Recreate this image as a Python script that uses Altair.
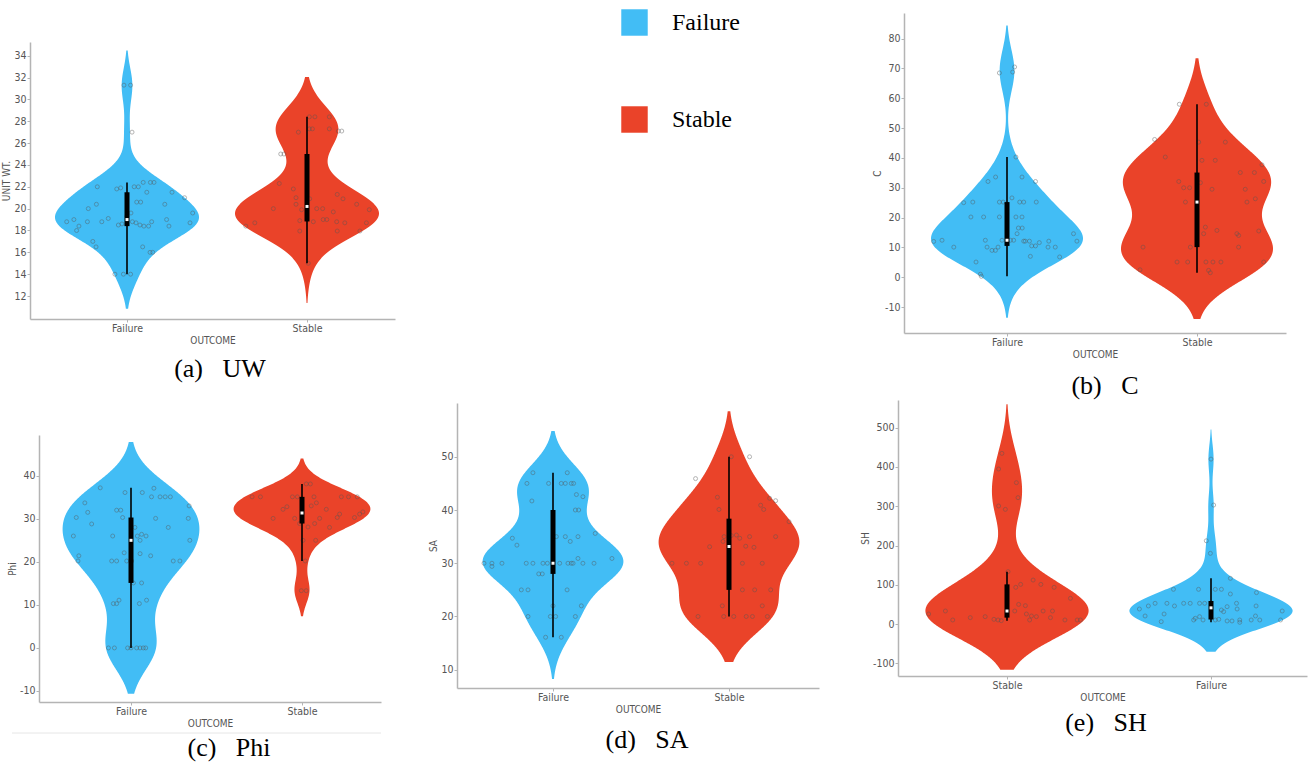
import altair as alt
import numpy as np
import pandas as pd

W, H = 1309, 765
BLUE = "#42bdf5"
RED = "#ea4329"
OUTCOMES = ["Failure", "Stable"]

# Observations per outcome: (value, horizontal jitter in category units)
UW_FAILURE = [(31.3, -0.017), (31.3, 0.02), (27.0, 0.028), (22.0, -0.165), (21.8, -0.057),
              (21.9, -0.035), (22.0, 0.04), (22.0, 0.063), (22.4, 0.09), (22.4, 0.13),
              (22.4, 0.15), (21.5, 0.25), (21.5, 0.11), (20.6, 0.054), (20.6, 0.076),
              (20.4, -0.17), (20.0, -0.215), (20.4, 0.21), (19.6, 0.365), (21.0, 0.32),
              (19.6, 0.022), (18.8, -0.335), (19.0, -0.295), (18.4, -0.267), (18.0, -0.28),
              (18.8, -0.22), (18.8, -0.14), (19.1, -0.104), (18.5, -0.048), (18.6, -0.028),
              (18.8, 0.03), (18.7, 0.05), (18.5, 0.072), (18.4, 0.094), (18.4, 0.12),
              (18.8, 0.137), (19.0, 0.22), (18.4, 0.233), (18.7, 0.35), (17.0, -0.19),
              (16.5, -0.172), (16.5, 0.087), (16.0, 0.128), (16.0, 0.143), (14.0, -0.067),
              (14.0, -0.02), (14.0, 0.02), (19.3, 0.0)]
UW_STABLE = [(28.4, 0.013), (28.4, 0.044), (28.4, 0.124), (27.0, -0.048), (27.3, 0.013),
             (27.3, 0.03), (27.3, 0.124), (27.1, 0.174), (27.1, 0.193), (25.0, -0.146),
             (25.0, -0.128), (22.3, -0.154), (21.8, -0.076), (21.0, -0.061), (20.4, -0.061),
             (20.9, 0.015), (19.9, -0.03), (20.0, -0.187), (20.0, 0.054), (20.0, 0.087),
             (19.7, 0.146), (21.3, 0.168), (20.9, 0.2), (20.4, 0.276), (19.9, 0.346),
             (18.9, -0.04), (18.8, 0.035), (19.0, 0.09), (19.0, 0.11), (18.8, 0.165),
             (18.7, 0.21), (18.7, 0.33), (18.7, -0.29), (18.4, -0.34), (17.95, -0.04),
             (17.95, 0.168), (17.95, 0.294), (15.0, 0.007)]

C_FAILURE = [(68.5, -0.04), (68.8, 0.03), (70.5, 0.04), (40.3, 0.047), (33.6, -0.06),
             (32.1, -0.1), (33.6, 0.079), (32.1, 0.15), (25.0, -0.228), (25.2, -0.18),
             (25.2, -0.04), (25.2, -0.02), (26.6, 0.026), (25.2, 0.067), (25.2, 0.088),
             (25.2, 0.154), (20.2, -0.19), (20.2, -0.123), (20.2, -0.04), (20.2, 0.047),
             (20.2, 0.079), (16.5, 0.06), (16.5, 0.08), (14.6, 0.053), (12.0, -0.386),
             (12.4, -0.342), (10.1, -0.28), (12.4, -0.114), (10.1, -0.105), (9.0, -0.079),
             (9.0, -0.061), (10.1, -0.047), (12.4, -0.026), (12.4, 0.018), (12.4, 0.035),
             (12.1, 0.088), (12.1, 0.096), (12.1, 0.118), (10.5, 0.13), (10.5, 0.15),
             (11.6, 0.17), (12.1, 0.22), (10.1, 0.216), (10.1, 0.254), (6.8, 0.277),
             (7.0, 0.123), (14.6, 0.35), (12.1, 0.368), (5.1, -0.163), (1.0, -0.14),
             (0.3, -0.135)]
C_STABLE = [(58.0, -0.093), (58.0, 0.049), (46.2, -0.223), (45.3, 0.009), (45.3, 0.149),
            (40.3, -0.167), (39.2, 0.026), (39.2, 0.096), (37.7, 0.342), (32.1, -0.096),
            (31.7, 0.018), (32.1, 0.351), (30.0, -0.07), (30.0, -0.039), (29.5, 0.079),
            (29.5, 0.254), (35.1, 0.228), (35.1, 0.302), (25.2, -0.061), (25.2, 0.263),
            (26.3, 0.307), (16.8, 0.044), (14.6, 0.035), (15.7, 0.105), (14.6, 0.21),
            (14.0, 0.219), (15.5, 0.325), (10.1, -0.284), (10.1, -0.035), (10.1, 0.219),
            (5.1, -0.105), (5.1, -0.049), (5.1, 0.047), (5.1, 0.084), (5.1, 0.126),
            (5.1, 0.351), (2.3, 0.061), (1.5, 0.07), (2.5, -0.3)]

PHI_FAILURE = [(37.2, -0.18), (36.1, -0.035), (36.1, 0.066), (37.1, 0.134), (35.1, 0.12),
               (35.1, 0.17), (35.1, 0.2), (35.1, 0.23), (33.7, -0.27), (33.0, 0.34),
               (32.0, -0.084), (32.0, -0.06), (31.5, -0.253), (30.3, -0.32), (30.3, -0.049),
               (30.1, 0.144), (30.1, 0.335), (28.8, -0.23), (28.0, 0.023), (28.0, 0.218),
               (26.0, -0.337), (26.0, -0.107), (26.0, 0.037), (26.4, 0.062), (26.0, 0.088),
               (25.0, 0.053), (25.0, 0.344), (21.4, -0.305), (20.2, -0.31), (22.1, -0.04),
               (21.9, 0.053), (21.4, 0.115), (20.2, -0.113), (20.2, -0.084), (20.2, -0.025),
               (20.2, 0.004), (20.2, 0.247), (20.2, 0.286), (15.1, 0.014), (15.1, 0.062),
               (10.3, -0.103), (10.3, -0.084), (11.1, -0.07), (10.3, 0.049), (11.1, 0.091),
               (0.0, -0.132), (0.0, -0.097), (0.0, -0.02), (0.0, 0.0), (0.0, 0.033),
               (0.0, 0.053), (0.0, 0.072), (0.0, 0.086)]
PHI_STABLE = [(35.1, -0.292), (35.1, -0.243), (35.1, -0.056), (35.1, -0.027), (38.1, 0.049),
              (38.1, 0.025), (35.1, 0.07), (35.1, 0.23), (35.1, 0.272), (35.1, 0.323),
              (32.2, -0.111), (32.8, -0.088), (33.0, 0.054), (33.7, 0.084), (32.2, 0.142),
              (30.1, -0.169), (30.1, -0.043), (30.1, 0.103), (30.3, 0.206), (31.1, 0.22),
              (30.3, 0.307), (31.1, 0.337), (31.6, 0.356), (28.9, -0.014), (28.1, 0.035),
              (28.9, 0.074), (28.0, 0.161), (25.0, 0.006), (25.0, 0.08), (20.2, 0.019),
              (13.3, -0.004), (13.3, 0.025)]

SA_FAILURE = [(47.0, -0.114), (47.0, 0.081), (45.0, -0.148), (45.0, -0.025), (45.0, 0.047),
              (45.0, 0.07), (45.0, 0.104), (45.0, 0.117), (42.9, 0.133), (42.5, 0.17),
              (41.7, -0.12), (40.0, 0.127), (40.0, 0.146), (34.7, -0.231), (33.4, -0.205),
              (35.0, 0.019), (35.0, 0.07), (35.0, 0.142), (34.1, 0.098), (35.6, 0.24),
              (30.9, 0.142), (30.9, 0.335), (30.0, -0.392), (30.0, -0.347), (30.0, -0.29),
              (29.4, -0.347), (30.0, -0.152), (30.0, -0.114), (30.0, -0.057), (30.0, -0.032),
              (30.0, 0.038), (30.0, 0.085), (30.0, 0.104), (30.0, 0.114), (30.0, 0.17),
              (30.0, 0.233), (28.0, -0.081), (28.0, -0.061), (25.0, -0.18), (25.0, -0.142),
              (25.0, 0.08), (22.0, 0.0), (22.0, 0.161), (20.0, -0.142), (20.0, -0.015),
              (20.0, 0.015), (20.0, 0.127), (16.1, -0.042), (16.1, 0.047)]
SA_STABLE = [(50.0, 0.013), (50.0, 0.117), (45.9, -0.19), (42.4, -0.066), (40.1, -0.057),
             (40.9, 0.18), (40.1, 0.197), (42.2, 0.231), (41.75, 0.265), (37.8, 0.341),
             (35.0, 0.265), (33.1, -0.11), (35.0, -0.028), (35.2, 0.013), (35.3, 0.042),
             (34.7, 0.061), (35.0, 0.117), (33.2, 0.095), (33.0, 0.142), (34.1, -0.034),
             (30.0, -0.324), (30.0, -0.242), (30.0, -0.161), (30.0, 0.076), (30.0, 0.189),
             (25.0, 0.076), (25.0, 0.146), (25.0, 0.237), (22.0, -0.038), (22.0, 0.189),
             (20.0, -0.176), (20.0, -0.03), (20.0, 0.027), (20.0, 0.098), (20.0, 0.133),
             (20.0, 0.218)]

SH_STABLE = [(434.6, -0.025), (394.8, -0.041), (360.0, 0.046), (321.8, 0.054), (300.6, -0.041),
             (292.0, -0.008), (133.4, 0.005), (112.0, 0.128), (101.0, 0.067), (93.5, 0.043),
             (101.0, 0.166), (93.5, 0.231), (65.5, 0.311), (50.0, 0.057), (46.8, 0.09),
             (33.2, -0.302), (33.2, 0.038), (33.2, 0.177), (33.2, 0.223), (25.6, 0.095),
             (20.5, 0.12), (25.6, -0.384), (10.3, -0.266), (16.3, -0.18), (18.8, -0.107),
             (12.0, -0.064), (10.3, -0.044), (8.6, -0.028), (10.3, 0.111), (18.8, 0.144),
             (16.3, 0.213), (10.3, 0.284), (10.3, 0.344), (10.3, 0.36)]
SH_FAILURE = [(420.0, 0.0), (303.0, 0.013), (212.0, -0.023), (180.0, -0.003), (116.4, 0.095),
              (88.4, -0.184), (88.4, -0.061), (88.4, 0.021), (88.4, 0.051), (80.0, 0.223),
              (76.5, 0.095), (52.8, -0.216), (52.8, -0.134), (52.8, -0.102), (52.8, -0.056),
              (52.8, -0.031), (52.8, -0.274), (52.8, 0.125), (46.0, -0.179), (46.0, -0.307),
              (38.3, -0.351), (44.2, 0.079), (38.3, 0.128), (35.8, 0.051), (31.5, 0.062),
              (46.0, 0.221), (33.2, 0.349), (20.5, -0.323), (25.6, -0.23), (14.6, -0.077),
              (18.8, -0.056), (10.3, -0.039), (10.3, -0.085), (10.3, 0.021), (12.0, 0.038),
              (6.1, -0.244), (7.8, 0.079), (7.8, 0.103), (10.3, 0.141), (10.3, 0.197),
              (10.3, 0.239), (20.5, 0.218), (10.3, 0.341), (4.4, 0.141)]

# Tick labels of each value axis
UW_TICKS = list(range(12, 35, 2))
C_TICKS = list(range(-10, 81, 10))
PHI_TICKS = list(range(-10, 41, 10))
SA_TICKS = list(range(10, 51, 10))
SH_TICKS = list(range(-100, 501, 100))

# Panel layout on the page (pixels) and value domains
PANELS = [
    dict(title="UNIT WT.", order=["Failure", "Stable"], groups=[UW_FAILURE, UW_STABLE],
         ticks=UW_TICKS, ydom=[9.9, 35.25], xpx=[30, 395], ypx=[319, 42], catpx=[127, 307],
         caption="(a)\u00a0\u00a0\u00a0UW", cap=(220, 369)),
    dict(title="C", order=["Failure", "Stable"], groups=[C_FAILURE, C_STABLE],
         ticks=C_TICKS, ydom=[-18.7, 88.6], xpx=[904, 1286], ypx=[333, 13], catpx=[1007, 1197],
         caption="(b)\u00a0\u00a0\u00a0C", cap=(1105, 386)),
    dict(title="Phi", order=["Failure", "Stable"], groups=[PHI_FAILURE, PHI_STABLE],
         ticks=PHI_TICKS, ydom=[-12.56, 49.47], xpx=[39, 381], ypx=[702, 435], catpx=[131, 302],
         caption="(c)\u00a0\u00a0\u00a0Phi", cap=(229, 748)),
    dict(title="SA", order=["Failure", "Stable"], groups=[SA_FAILURE, SA_STABLE],
         ticks=SA_TICKS, ydom=[6.57, 60.1], xpx=[457, 819], ypx=[688, 403], catpx=[553, 729],
         caption="(d)\u00a0\u00a0\u00a0SA", cap=(647, 740)),
    dict(title="SH", order=["Stable", "Failure"], groups=[SH_STABLE, SH_FAILURE],
         ticks=SH_TICKS, ydom=[-132.3, 570.5], xpx=[898, 1307], ypx=[676, 400], catpx=[1007, 1211],
         caption="(e)\u00a0\u00a0\u00a0SH", cap=(1106, 723)),
]

AXIS_FONT = "Liberation Sans Narrow, DejaVu Sans Condensed, Liberation Sans, sans-serif"
SERIF = "Liberation Serif, Times New Roman, serif"
HALF_WIDTH = 0.4   # widest point of each violin, in category units
CUT = 2            # kernel bandwidths the violin extends past the data


def panel(p, with_legend):
    rows = []
    for pos, (cat, obs) in enumerate(zip(p["order"], p["groups"])):
        for v, j in obs:
            rows.append({"cat": cat, "pos": pos, "v": v, "jx": pos + j})
    base = alt.Chart(pd.DataFrame(rows))

    c0, c1 = p["catpx"]
    unit = c1 - c0
    xdom = [(p["xpx"][0] - c0) / unit, (p["xpx"][1] - c0) / unit]
    xscale = alt.Scale(domain=xdom, range=p["xpx"], nice=False, zero=False)
    yscale = alt.Scale(domain=p["ydom"], range=p["ypx"], nice=False, zero=False)
    xaxis = alt.Axis(orient="bottom", offset=p["ypx"][0] - H, values=[0, 1],
                     labelExpr=f"datum.value == 0 ? '{p['order'][0]}' : '{p['order'][1]}'",
                     title="OUTCOME")
    yaxis = alt.Axis(orient="left", offset=-p["xpx"][0], values=p["ticks"],
                     labelExpr="'' + datum.value", title=p["title"])

    def X(field):
        return alt.X(field, type="quantitative", scale=xscale, axis=xaxis)

    def Y(field):
        return alt.Y(field, type="quantitative", scale=yscale, axis=yaxis)

    legend = None
    if with_legend:
        legend = alt.Legend(orient="none", legendX=621, legendY=9, title=None,
                            symbolType="square", symbolSize=700, symbolStrokeWidth=0,
                            symbolOpacity=1, labelFont=SERIF, labelFontSize=24,
                            labelColor="black", labelOffset=24, rowPadding=70,
                            padding=0, direction="vertical")
    color = alt.Color("cat:N", scale=alt.Scale(domain=OUTCOMES, range=[BLUE, RED]),
                      legend=legend)

    # one kernel density per outcome, Scott bandwidth, cut two bandwidths past the data
    violins = []
    for pos, (cat, obs) in enumerate(zip(p["order"], p["groups"])):
        vals = np.array([v for v, _ in obs])
        bw = float(vals.std(ddof=1) * len(vals) ** -0.2)
        extent = [float(vals.min() - CUT * bw), float(vals.max() + CUT * bw)]
        violins.append(
            base.transform_filter(alt.datum.cat == cat)
            .transform_density("v", as_=["v", "density"], groupby=["cat", "pos"],
                               bandwidth=bw, extent=extent, steps=300)
            .transform_joinaggregate(dmax="max(density)")
            .transform_calculate(xl=f"datum.pos - {HALF_WIDTH} * datum.density / datum.dmax",
                                 xr=f"datum.pos + {HALF_WIDTH} * datum.density / datum.dmax")
            .mark_area(orient="horizontal", opacity=1)
            .encode(y=Y("v"), x=X("xl"), x2="xr:Q", color=color)
        )
        color = alt.Color("cat:N", scale=alt.Scale(domain=OUTCOMES, range=[BLUE, RED]),
                          legend=None)

    points = base.mark_point(shape="circle", filled=False, size=16, color="#555555",
                             opacity=0.55, strokeWidth=0.8).encode(x=X("jx"), y=Y("v"))
    whisker = (
        base.transform_joinaggregate(q1="q1(v)", q3="q3(v)", groupby=["cat"])
        .transform_filter("datum.v >= datum.q1 - 1.5 * (datum.q3 - datum.q1) && "
                          "datum.v <= datum.q3 + 1.5 * (datum.q3 - datum.q1)")
        .transform_aggregate(lo="min(v)", hi="max(v)", groupby=["cat", "pos"])
        .mark_rule(color="black", strokeWidth=1.6)
        .encode(x=X("pos"), y=Y("lo"), y2="hi:Q")
    )
    box = (
        base.transform_aggregate(q1="q1(v)", q3="q3(v)", groupby=["cat", "pos"])
        .mark_rule(color="black", strokeWidth=5)
        .encode(x=X("pos"), y=Y("q1"), y2="q3:Q")
    )
    median = (
        base.transform_aggregate(med="median(v)", groupby=["cat", "pos"])
        .mark_square(color="white", size=9, opacity=1)
        .encode(x=X("pos"), y=Y("med"))
    )
    return alt.layer(*violins, points, whisker, box, median)


captions = [
    alt.Chart(pd.DataFrame({"t": [p["caption"]]})).mark_text(
        font=SERIF, fontSize=26, color="black", align="center", baseline="middle"
    ).encode(text="t:N", x=alt.value(p["cap"][0]), y=alt.value(p["cap"][1]))
    for p in PANELS
]

separator = alt.Chart(pd.DataFrame({"k": [0]})).mark_rule(color="#e6e6e6", strokeWidth=1).encode(
    x=alt.value(12), x2=alt.value(381), y=alt.value(733)
)

panels = [panel(p, i == 0) for i, p in enumerate(PANELS)]

chart = (
    alt.layer(*panels, *captions, separator)
    .resolve_scale(x="independent", y="independent")
    .properties(width=W, height=H, padding=0, autosize=alt.AutoSizeParams(type="none"))
    .configure_view(stroke=None)
    .configure_axis(
        grid=False, domainColor="#b4b4b4", domainWidth=1.5, tickColor="#b4b4b4",
        tickSize=3, tickWidth=1, labelColor="#555555", labelFont=AXIS_FONT,
        labelFontSize=10.5, labelPadding=1, titleFont=AXIS_FONT, titleFontSize=10,
        titleColor="#555555", titleFontWeight="normal", titlePadding=2,
    )
)

chart.save("out.html", embed_options={"renderer": "svg", "actions": False})
